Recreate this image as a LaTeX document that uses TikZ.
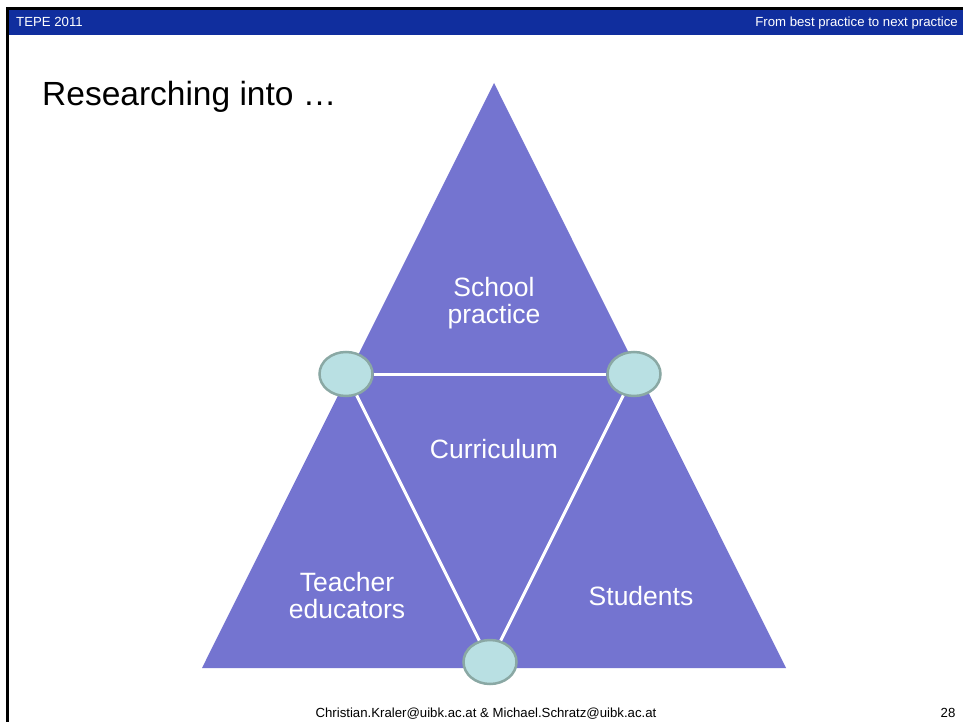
\documentclass[tikz,border=0pt]{standalone}
\usepackage{fontspec}
\setmainfont{Liberation Sans}
\usetikzlibrary{shapes.geometric}
\definecolor{barblue}{RGB}{16,46,158}
\definecolor{trifill}{RGB}{116,116,208}
\definecolor{circfill}{RGB}{185,224,227}
\definecolor{circline}{RGB}{138,168,164}
\tikzset{
  joint/.style={ellipse, fill=circfill, draw=circline, line width=2.5pt, minimum width=53pt, minimum height=44pt, inner sep=0pt},
  link/.style={draw=white, line width=3pt},
  label/.style={text=white, align=center, font=\fontsize{26.5}{27}\selectfont},
  small/.style={font=\fontsize{13.2}{15}\selectfont}
}
\begin{document}
\begin{tikzpicture}[x=1pt,y=-1pt]
\useasboundingbox (0,0) rectangle (963,722);
\fill[white] (0,0) rectangle (963,722);
% header
\fill[barblue] (7,9) rectangle (963,35);
\fill[black] (6,7) rectangle (963,10);
\fill[black] (6,7) rectangle (8.5,722);
\node[small, text=white, anchor=base west, inner sep=0pt] (hl) at (16,27) {TEPE 2011};
\node[small, text=white, anchor=base east, inner sep=0pt] (hr) at (958,27) {From best practice to next practice};
% title
\node[anchor=base west, inner sep=0pt, font=\fontsize{33.5}{38}\selectfont] (title) at (42,106) {Researching into …};
% triangle
\fill[trifill] (494,83) -- (786,668) -- (202,668) -- cycle;
% joints
\node[joint] (l) at (346,374) {};
\node[joint] (r) at (634,374) {};
\node[joint] (b) at (490,662) {};
\draw[link] (l) -- (r);
\draw[link] (l) -- (b);
\draw[link] (r) -- (b);
% labels
\node[label] (sp) at (494,303) {School\\practice};
\node[label] (cu) at (494,449) {Curriculum};
\node[label] (te) at (347,596) {Teacher\\educators};
\node[label] (st) at (641,596) {Students};
% footer
\node[anchor=base, inner sep=0pt, font=\fontsize{13.2}{15}\selectfont] (ft) at (486,717) {Christian.Kraler@uibk.ac.at \& Michael.Schratz@uibk.ac.at};
\node[anchor=base, inner sep=0pt, font=\fontsize{13.2}{15}\selectfont] (pg) at (948,717) {28};
\end{tikzpicture}
\end{document}
